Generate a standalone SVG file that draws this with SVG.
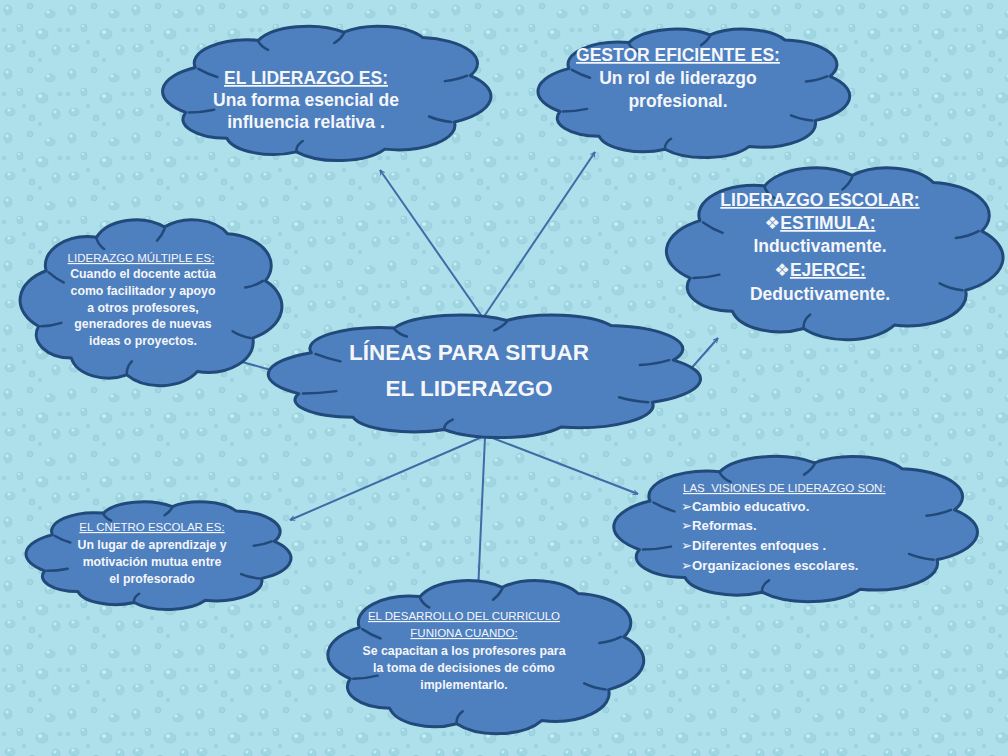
<svg xmlns="http://www.w3.org/2000/svg" xmlns:xlink="http://www.w3.org/1999/xlink" width="1008" height="756" viewBox="0 0 1008 756">
<style>
.cl{fill:#4e7fbf;stroke:#21497a;stroke-width:3;vector-effect:non-scaling-stroke;stroke-linejoin:round}
.cr{fill:none;stroke:#21497a;stroke-width:2.5;vector-effect:non-scaling-stroke;stroke-linecap:round}
.t{font-family:"Liberation Sans",Arial,"DejaVu Sans",sans-serif;fill:#f4f6fa;font-weight:bold;text-anchor:middle}
.h{font-weight:normal}
.u{text-decoration:underline}
.big{font-size:17.5px}
.sm{font-size:12.3px}
.hs{font-size:11.5px}
.cn{stroke:#3d6ca6;stroke-width:2;fill:none;marker-end:url(#arr)}
</style>
<defs>
<pattern id="drops" width="64" height="64" patternUnits="userSpaceOnUse">
<rect width="64" height="64" fill="#ade0ea"/>
<g fill="#a0d6e2" stroke="#90cad8" stroke-width="0.6">
<ellipse cx="8" cy="10" rx="4" ry="5"/>
<ellipse cx="30" cy="6" rx="3" ry="3"/>
<ellipse cx="50" cy="14" rx="5" ry="4"/>
<ellipse cx="20" cy="28" rx="3" ry="4"/>
<ellipse cx="42" cy="34" rx="6" ry="5"/>
<ellipse cx="10" cy="48" rx="5" ry="4"/>
<ellipse cx="32" cy="54" rx="3" ry="3"/>
<ellipse cx="56" cy="50" rx="4" ry="5"/>
<circle cx="60" cy="30" r="2"/>
<circle cx="24" cy="42" r="1.8"/>
<circle cx="4" cy="30" r="1.8"/>
<circle cx="40" cy="60" r="1.5"/>
</g>
<g fill="#d6f3f7" opacity="0.8">
<circle cx="7" cy="8" r="1.5"/>
<circle cx="48" cy="12" r="1.6"/>
<circle cx="40" cy="32" r="2"/>
<circle cx="9" cy="46" r="1.6"/>
<circle cx="55" cy="48" r="1.4"/>
<circle cx="19" cy="26" r="1.1"/>
</g>
</pattern>
<path id="cp" class="cl" d="M5,65 A20,20 0 0 1 8,32 A17,17 0 0 1 28,12 A17,17 0 0 1 55,6 A16,16 0 0 1 80,10 A19,19 0 0 1 95,38 A21,21 0 0 1 90,72 A18,18 0 0 1 68,92 A17,17 0 0 1 40,94 A15,15 0 0 1 18,84 A14,14 0 0 1 5,65 Z"/>
<path id="cc" class="cr" d="M6,65 Q10,65 14,63 M9,33 Q12,37 15,39 M28,13 Q29,17 31,19 M55,7 Q54,11 52,14 M94,38 Q91,41 87,42 M89,72 Q85,71 82,68 M40,93 Q40,89 42,86"/>
<marker id="arr" viewBox="0 0 10 10" refX="9" refY="5" markerWidth="6" markerHeight="6" orient="auto" markerUnits="userSpaceOnUse">
<path d="M1,1 L9,5 L1,9" fill="none" stroke="#3d6ca6" stroke-width="1.6"/>
</marker>
</defs>
<rect width="1008" height="756" fill="url(#drops)"/>
<g id="connectors">
<path class="cn" d="M483,318 L380,170"/>
<path class="cn" d="M483,318 L595,152"/>
<path class="cn" d="M688,372 L718,338"/>
<path class="cn" d="M278,372 L235,360"/>
<path class="cn" d="M482,437 L290,520"/>
<path class="cn" d="M485,437 L478,592"/>
<path class="cn" d="M490,437 L638,494"/>
</g>
<g id="n-liderazgo">
<use href="#cp" transform="translate(170 24) scale(3.16 1.36)"/>
<use href="#cc" transform="translate(170 24) scale(3.16 1.36)"/>
<text class="t big" x="306" y="84"><tspan class="u">EL LIDERAZGO ES:</tspan></text>
<text class="t big" x="306" y="106">Una forma esencial de</text>
<text class="t big" x="306" y="128">influencia relativa .</text>
</g>
<g id="n-gestor">
<use href="#cp" transform="translate(545 27) scale(3.00 1.30)"/>
<use href="#cc" transform="translate(545 27) scale(3.00 1.30)"/>
<text class="t big" x="678" y="61"><tspan class="u">GESTOR EFICIENTE ES:</tspan></text>
<text class="t big" x="678" y="84">Un rol de liderazgo</text>
<text class="t big" x="678" y="107">profesional.</text>
</g>
<g id="n-escolar">
<use href="#cp" transform="translate(674 165) scale(3.24 1.74)"/>
<use href="#cc" transform="translate(674 165) scale(3.24 1.74)"/>
<text class="t big" x="820" y="206"><tspan class="u">LIDERAZGO ESCOLAR:</tspan></text>
<text class="t big" x="820" y="229">❖<tspan class="u">ESTIMULA:</tspan></text>
<text class="t big" x="820" y="252">Inductivamente.</text>
<text class="t big" x="820" y="276">❖<tspan class="u">EJERCE:</tspan></text>
<text class="t big" x="820" y="300">Deductivamente.</text>
</g>
<g id="n-multiple">
<use href="#cp" transform="translate(26 217) scale(2.52 1.68)"/>
<use href="#cc" transform="translate(26 217) scale(2.52 1.68)"/>
<text class="t h hs" x="141" y="262"><tspan class="u">LIDERAZGO MÚLTIPLE ES:</tspan></text>
<text class="t sm" x="143" y="278">Cuando el docente actúa</text>
<text class="t sm" x="143" y="295">como facilitador y apoyo</text>
<text class="t sm" x="143" y="312">a otros profesores,</text>
<text class="t sm" x="143" y="328">generadores de nuevas</text>
<text class="t sm" x="143" y="345">ideas o proyectos.</text>
</g>
<g id="n-centro">
<use href="#cp" transform="translate(278 313) scale(4.16 1.24)"/>
<use href="#cc" transform="translate(278 313) scale(4.16 1.24)"/>
<text class="t" style="font-size:22.5px" x="469" y="360">LÍNEAS PARA SITUAR</text>
<text class="t" style="font-size:22.5px" x="469" y="396">EL LIDERAZGO</text>
</g>
<g id="n-visiones">
<use href="#cp" transform="translate(622 454) scale(3.50 1.47)"/>
<use href="#cc" transform="translate(622 454) scale(3.50 1.47)"/>
<text class="t h hs" style="text-anchor:start" xml:space="preserve" x="683" y="492"><tspan class="u">LAS  VISIONES DE LIDERAZGO SON:</tspan></text>
<text class="t" style="text-anchor:start;font-size:13.2px" x="681" y="511">➢Cambio educativo.</text>
<text class="t" style="text-anchor:start;font-size:13.2px" x="681" y="530">➢Reformas.</text>
<text class="t" style="text-anchor:start;font-size:13.2px" x="681" y="550">➢Diferentes enfoques .</text>
<text class="t" style="text-anchor:start;font-size:13.2px" x="681" y="570">➢Organizaciones escolares.</text>
</g>
<g id="n-cnetro">
<use href="#cp" transform="translate(32 500) scale(2.55 1.09)"/>
<use href="#cc" transform="translate(32 500) scale(2.55 1.09)"/>
<text class="t h hs" x="152" y="531"><tspan class="u">EL CNETRO ESCOLAR ES:</tspan></text>
<text class="t sm" x="152" y="549">Un lugar de aprendizaje y</text>
<text class="t sm" x="152" y="566">motivación mutua entre</text>
<text class="t sm" x="152" y="583">el profesorado</text>
</g>
<g id="n-desarrollo">
<use href="#cp" transform="translate(335 578) scale(3.04 1.55)"/>
<use href="#cc" transform="translate(335 578) scale(3.04 1.55)"/>
<text class="t h hs" x="464" y="620"><tspan class="u">EL DESARROLLO DEL CURRICULO</tspan></text>
<text class="t h hs" x="464" y="637"><tspan class="u">FUNIONA CUANDO:</tspan></text>
<text class="t sm" x="464" y="655">Se capacitan a los profesores para</text>
<text class="t sm" x="464" y="672">la toma de decisiones de cómo</text>
<text class="t sm" x="464" y="689">implementarlo.</text>
</g>
</svg>
